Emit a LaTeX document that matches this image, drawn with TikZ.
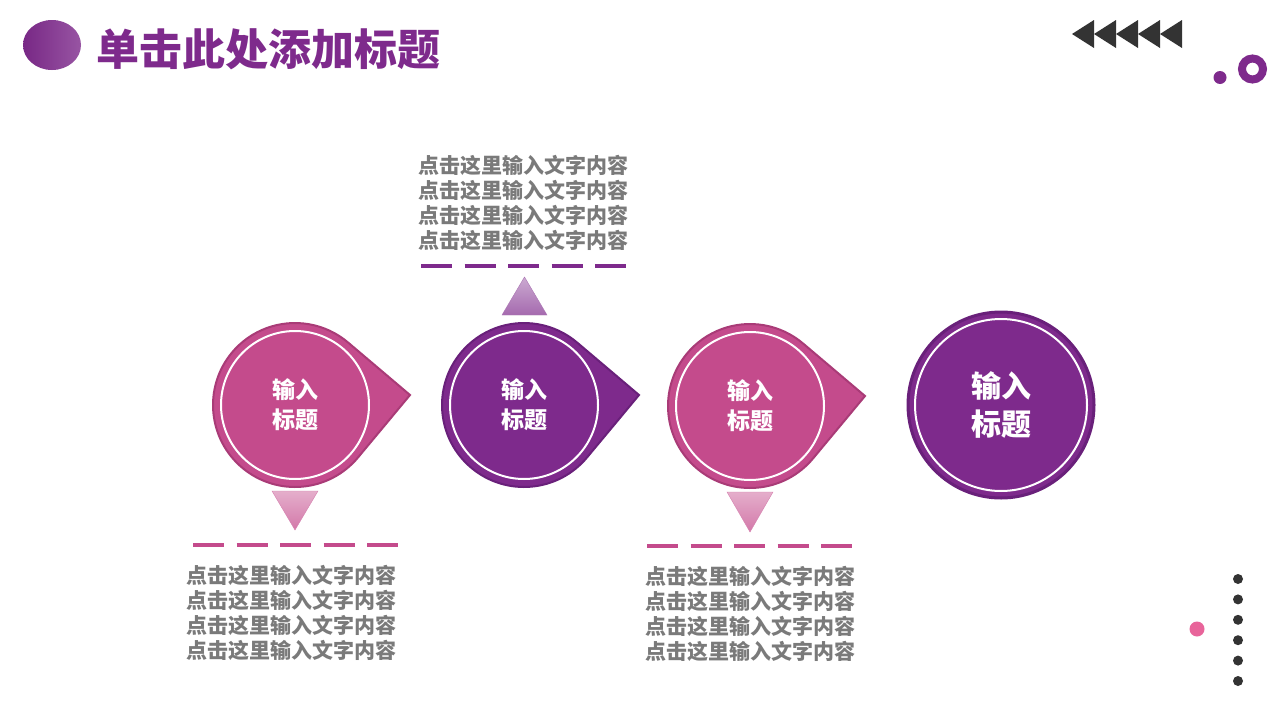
\documentclass[tikz,border=0pt]{standalone}
\usepackage{fontspec}
\setmainfont{Noto Sans CJK SC}
\usetikzlibrary{calc}

\definecolor{plum}{HTML}{7E2A8C}
\definecolor{plumdark}{HTML}{69207A}
\definecolor{rose}{HTML}{C44B8C}
\definecolor{rosedark}{HTML}{A93B77}
\definecolor{blush}{HTML}{E8649A}
\definecolor{memo}{HTML}{7A7A7A}
\definecolor{ink}{HTML}{333333}

\tikzset{
  ring/.style={circle, draw=white, line width=2, minimum size=148, inner sep=0,
    text=white, align=center, font=\bfseries\fontsize{23}{30}\selectfont},
  memo/.style={align=center, text=memo, inner sep=0,
    font=\bfseries\fontsize{21}{25}\selectfont},
  dashline/.style={line width=4, dash pattern=on 31pt off 12.5pt}
}

% circle with a pointed tip to the right
\newcommand{\droplet}[3]{%
  \filldraw[fill=#2, draw=#3, line width=2]
    ($(#1)+(-49.7:82)$) -- ($(#1)+(115,-10)$) -- ($(#1)+(39.7:82)$)
    arc[start angle=39.7, end angle=310.3, radius=82] -- cycle;}

\begin{document}
\begin{tikzpicture}[x=1pt, y=-1pt]
  \useasboundingbox (0,0) rectangle (1280,720);
  \fill[white] (0,0) rectangle (1280,720);

  % title
  \shade[left color=plum!95!black, right color=plum!80!white] (52,45) ellipse (29 and 25);
  \node[anchor=west, inner sep=0, text=plum, font=\bfseries\fontsize{43}{43}\selectfont]
    (title) at (96,49) {单击此处添加标题};

  % decoration top right
  \foreach \i in {0,...,4}
    \fill[ink] (1072+22*\i,34) -- (1094+22*\i,20) -- (1094+22*\i,48) -- cycle;
  \fill[plum] (1220,77.5) circle (6.5);
  \draw[plum, line width=8] (1252.5,69) circle (10.5);

  % decoration bottom right
  \foreach \i in {0,...,5}
    \fill[ink] (1238,579+20.4*\i) circle (5);
  \fill[blush] (1197,629) circle (7.5);

  \coordinate (p1) at (295,405);
  \coordinate (p2) at (524,405);
  \coordinate (p3) at (750,406);
  \coordinate (p4) at (1001,405);

  \droplet{p1}{rose}{rosedark}
  \droplet{p2}{plum}{plumdark}
  \droplet{p3}{rose}{rosedark}
  \filldraw[fill=plum, draw=plumdark, line width=3] (p4) circle (93);

  \node[ring] (c1) at (p1) {输入\\标题};
  \node[ring] (c2) at (p2) {输入\\标题};
  \node[ring] (c3) at (p3) {输入\\标题};
  \node[ring, minimum size=172, font=\bfseries\fontsize{30}{38}\selectfont] (c4) at (p4) {输入\\标题};

  % small triangles
  \shade[top color=rose!45!white, bottom color=rose!75!white, draw=rose!70!white]
    (272,491) -- (318,491) -- (295,530) -- cycle;
  \shade[top color=plum!40!white, bottom color=plum!70!white, draw=plum!65!white]
    (502,315) -- (547,315) -- (524.5,277) -- cycle;
  \shade[top color=rose!45!white, bottom color=rose!75!white, draw=rose!70!white]
    (727,492) -- (773,492) -- (750,532) -- cycle;

  % dashed lines
  \draw[dashline, rose] (193,545) -- (398,545);
  \draw[dashline, plum] (421,266) -- (626,266);
  \draw[dashline, rose] (647,546) -- (852,546);

  % texts
  \node[memo] (m1) at (291,613) {点击这里输入文字内容\\点击这里输入文字内容\\点击这里输入文字内容\\点击这里输入文字内容};
  \node[memo] (m2) at (523,203) {点击这里输入文字内容\\点击这里输入文字内容\\点击这里输入文字内容\\点击这里输入文字内容};
  \node[memo] (m3) at (750,614) {点击这里输入文字内容\\点击这里输入文字内容\\点击这里输入文字内容\\点击这里输入文字内容};
\end{tikzpicture}
\end{document}
